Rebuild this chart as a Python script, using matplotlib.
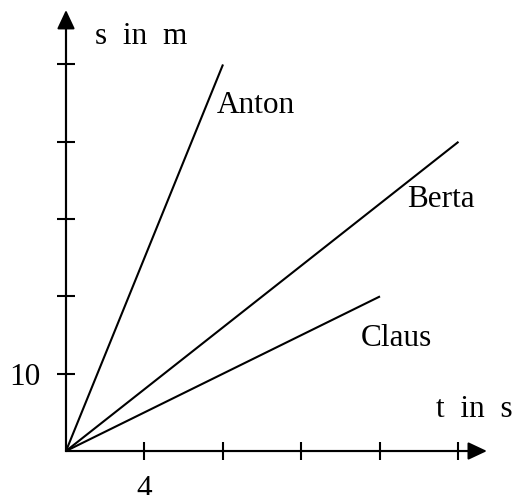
import matplotlib
matplotlib.use("Agg")
import matplotlib.pyplot as plt

# distance-time lines (t in s, s in m), all start at the origin
runners = ["Anton", "Berta", "Claus"]
t_end = [8, 20, 16]
s_end = [50, 40, 20]

x_ticks = [4, 8, 12, 16, 20]
x_labels = ["4", "", "", "", ""]
y_ticks = [10, 20, 30, 40, 50]
y_labels = ["10", "", "", "", ""]

plt.rcParams["font.family"] = ["Liberation Serif", "DejaVu Serif"]
FS = 22.5

fig = plt.figure(figsize=(5.16, 4.95), dpi=100)
ax = fig.add_axes([0, 0, 1, 1])
ax.set_xlim(-3.363, 22.93)
ax.set_ylim(-5.69, 58.34)

for name, t1, s1 in zip(runners, t_end, s_end):
    ax.plot([0, t1], [0, s1], color="black", lw=1.5, solid_capstyle="butt")

# axes through the origin with arrow heads
for side in ["top", "right"]:
    ax.spines[side].set_visible(False)
for side in ["left", "bottom"]:
    ax.spines[side].set_position(("data", 0))
    ax.spines[side].set_linewidth(1.5)
ax.spines["bottom"].set_bounds(0, 21.0)
ax.spines["left"].set_bounds(0, 56.0)

arrow = dict(arrowstyle="-|>,head_length=1.15,head_width=0.54", lw=1.5,
             color="black", mutation_scale=10, shrinkA=0, shrinkB=0)
ax.annotate("", xy=(21.45, 0), xytext=(0, 0), arrowprops=arrow)
ax.annotate("", xy=(0, 57.05), xytext=(0, 0), arrowprops=arrow)

ax.set_xticks(x_ticks, x_labels)
ax.set_yticks(y_ticks, y_labels)
ax.tick_params(direction="inout", length=13, width=1.5, labelsize=FS)
ax.tick_params(axis="x", pad=10.5)
ax.tick_params(axis="y", pad=12)

ax.text(1.48, 52.65, "s  in  m", fontsize=FS, va="baseline")
ax.text(18.85, 4.44, "t  in  s", fontsize=FS, va="baseline")
ax.text(7.7, 43.7, "Anton", fontsize=FS, va="baseline")
ax.text(17.4, 31.6, "Berta", fontsize=FS, va="baseline")
ax.text(15.0, 13.6, "Claus", fontsize=FS, va="baseline")

fig.savefig("out.png", dpi=100)
